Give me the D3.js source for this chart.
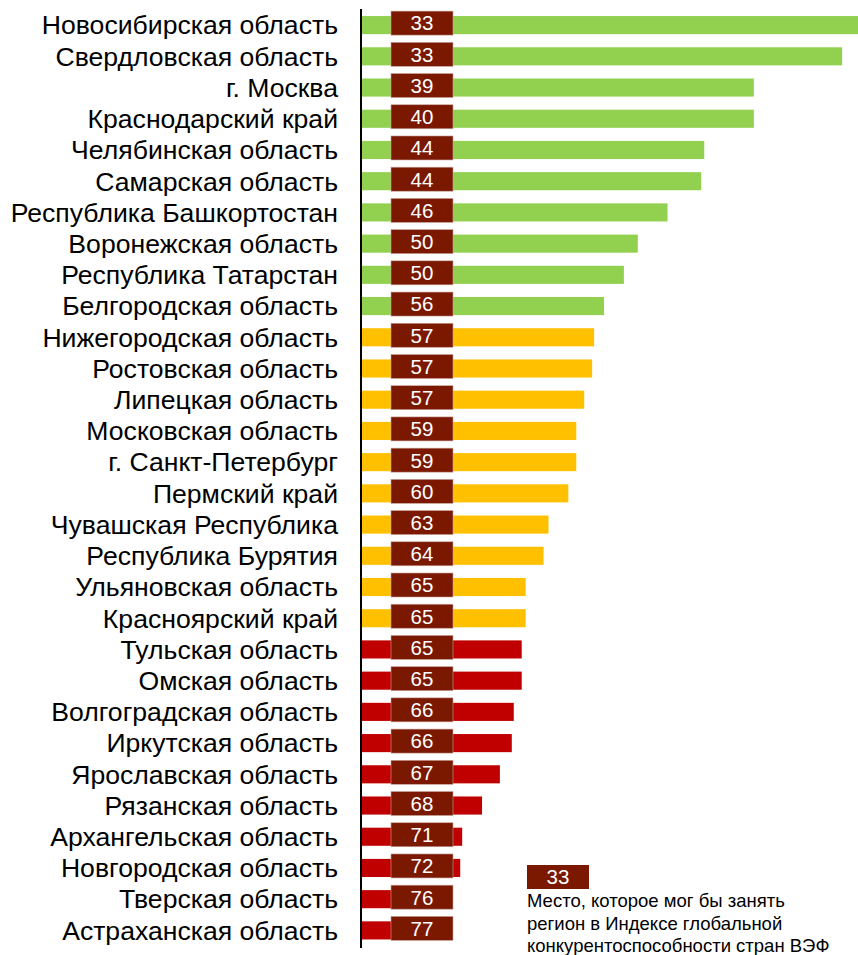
<!DOCTYPE html>
<html>
<head>
<meta charset="utf-8">
<script src="https://cdn.jsdelivr.net/npm/d3@7"></script>
<style>
  body { margin: 0; background: #fff; }
  svg { display: block; font-family: "Liberation Sans", Arial, sans-serif; }
</style>
</head>
<body>
<div id="chart"></div>
<script>
// Данные
var regions = [
  "Новосибирская область", "Свердловская область", "г. Москва", "Краснодарский край",
  "Челябинская область", "Самарская область", "Республика Башкортостан", "Воронежская область",
  "Республика Татарстан", "Белгородская область", "Нижегородская область", "Ростовская область",
  "Липецкая область", "Московская область", "г. Санкт-Петербург", "Пермский край",
  "Чувашская Республика", "Республика Бурятия", "Ульяновская область", "Красноярский край",
  "Тульская область", "Омская область", "Волгоградская область", "Иркутская область",
  "Ярославская область", "Рязанская область", "Архангельская область", "Новгородская область",
  "Тверская область", "Астраханская область"
];
var scores = [
  5.00, 4.84, 3.95, 3.95, 3.45, 3.42, 3.08, 2.78, 2.64, 2.44,
  2.34, 2.32, 2.24, 2.16, 2.16, 2.08, 1.88, 1.83, 1.65, 1.65,
  1.61, 1.61, 1.53, 1.51, 1.39, 1.21, 1.01, 0.99, 0.89, 0.87
];
var ranks = [
  33, 33, 39, 40, 44, 44, 46, 50, 50, 56,
  57, 57, 57, 59, 59, 60, 63, 64, 65, 65,
  65, 65, 66, 66, 67, 68, 71, 72, 76, 77
];
var groups = [
  "g", "g", "g", "g", "g", "g", "g", "g", "g", "g",
  "y", "y", "y", "y", "y", "y", "y", "y", "y", "y",
  "r", "r", "r", "r", "r", "r", "r", "r", "r", "r"
];
var legendRank = "33";
var legendLines = ["Место, которое мог бы занять", "регион в Индексе глобальной", "конкурентоспособности стран ВЭФ"];

var groupColor = { g: "#92d050", y: "#ffc000", r: "#c00000" };
var boxColor = "#7a1800";

var width = 858, height = 955;
var x0 = 362;

var svg = d3.select("#chart").append("svg")
  .attr("width", width)
  .attr("height", height);

var x = d3.scaleLinear().domain([0, 5]).range([x0, 858]);
var y = d3.scaleBand().domain(d3.range(regions.length)).range([9.5, 946]).paddingInner(0.42).paddingOuter(0.21);

// Полосы
svg.append("g").selectAll("rect")
  .data(scores)
  .join("rect")
  .attr("x", x(0))
  .attr("y", function(d, i) { return y(i); })
  .attr("width", function(d) { return x(d) - x(0); })
  .attr("height", y.bandwidth())
  .attr("fill", function(d, i) { return groupColor[groups[i]]; });

// Подписи регионов
svg.append("g").selectAll("text")
  .data(regions)
  .join("text")
  .attr("x", 338)
  .attr("y", function(d, i) { return y(i) + y.bandwidth() / 2; })
  .attr("dy", "0.35em")
  .attr("text-anchor", "end")
  .attr("font-size", 26.6)
  .attr("fill", "#000")
  .text(function(d) { return d; });

// Места в рейтинге
var rk = svg.append("g").selectAll("g")
  .data(ranks)
  .join("g")
  .attr("transform", function(d, i) { return "translate(391," + (y(i) + y.bandwidth() / 2 - 2) + ")"; });
rk.append("rect")
  .attr("x", 0).attr("y", -12)
  .attr("width", 62).attr("height", 24)
  .attr("fill", boxColor)
  .attr("stroke", "#c9a49c").attr("stroke-width", 0.6);
rk.append("text")
  .attr("x", 31).attr("y", 0).attr("dy", "0.36em")
  .attr("text-anchor", "middle")
  .attr("font-size", 20.5)
  .attr("fill", "#fff")
  .text(function(d) { return d; });

// Ось
svg.append("line")
  .attr("x1", 361).attr("x2", 361)
  .attr("y1", 9).attr("y2", 948)
  .attr("stroke", "#000").attr("stroke-width", 2);

// Легенда
var lg = svg.append("g").attr("transform", "translate(527,865)");
lg.append("rect").attr("width", 62).attr("height", 24).attr("fill", boxColor);
lg.append("text")
  .attr("x", 31).attr("y", 12).attr("dy", "0.36em")
  .attr("text-anchor", "middle").attr("font-size", 20.5).attr("fill", "#fff")
  .text(legendRank);
lg.selectAll("text.l")
  .data(legendLines)
  .join("text")
  .attr("class", "l")
  .attr("x", 0)
  .attr("y", function(d, i) { return 42 + i * 22.5; })
  .attr("font-size", 18.5)
  .attr("fill", "#000")
  .text(function(d) { return d; });
</script>
</body>
</html>
